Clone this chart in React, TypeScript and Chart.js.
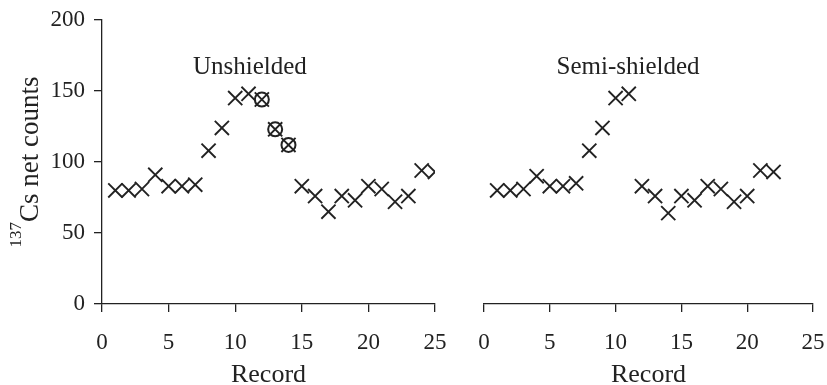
import React, { useEffect, useRef } from 'react';
import { Chart, registerables } from 'chart.js';

Chart.register(...registerables);

// ---------- data ----------
const unshieldedRecords = [1, 2, 3, 4, 5, 6, 7, 8, 9, 10, 11, 12, 13, 14, 15, 16, 17, 18, 19, 20, 21, 22, 23, 24, 25];
const unshieldedCounts = [80, 80, 81, 91, 83, 83, 84, 108, 124, 145, 148, 144, 123, 112, 83, 76, 65, 76, 73, 83, 81, 72, 76, 94, 93];
const circledRecords = [12, 13, 14];
const circledCounts = [144, 123, 112];

const semiRecords = [1, 2, 3, 4, 5, 6, 7, 8, 9, 10, 11, 12, 13, 14, 15, 16, 17, 18, 19, 20, 21, 22];
const semiCounts = [80, 80, 81, 90, 83, 83, 85, 108, 124, 145, 148, 83, 76, 64, 76, 73, 83, 81, 72, 76, 94, 93];

const xTickValues = [0, 5, 10, 15, 20, 25];
const yTickValues = [0, 50, 100, 150, 200];

const panelTitles = ['Unshielded', 'Semi-shielded'];
const xAxisTitle = 'Record';
const yAxisSup = '137';
const yAxisTitle = 'Cs net counts';

// ---------- style ----------
const INK = '#222222';
const FONT = "'Liberation Serif', 'DejaVu Serif', serif";

const toPoints = (xs: number[], ys: number[]) => xs.map((x, i) => ({ x, y: ys[i] }));

function makeTextPlugin(title: string, titleX: number, titleY: number, withYTitle: boolean) {
  return {
    id: 'panelText',
    afterDraw(chart: any) {
      const ctx = chart.ctx as CanvasRenderingContext2D;
      const area = chart.chartArea;
      const xs = chart.scales.x;
      const ys = chart.scales.y;
      ctx.save();
      ctx.fillStyle = INK;
      ctx.textAlign = 'center';
      ctx.textBaseline = 'alphabetic';
      ctx.font = `25px ${FONT}`;
      ctx.fillText(title, xs.getPixelForValue(titleX), ys.getPixelForValue(titleY));
      ctx.font = `26px ${FONT}`;
      ctx.fillText(xAxisTitle, (area.left + area.right) / 2, chart.height - 3);
      if (withYTitle) {
        ctx.translate(38, (area.top + area.bottom) / 2);
        ctx.rotate(-Math.PI / 2);
        ctx.textAlign = 'left';
        ctx.font = `17px ${FONT}`;
        const supW = ctx.measureText(yAxisSup).width;
        ctx.font = `27px ${FONT}`;
        const mainW = ctx.measureText(yAxisTitle).width;
        const start = -(supW + mainW) / 2;
        ctx.font = `17px ${FONT}`;
        ctx.fillText(yAxisSup, start, -17);
        ctx.font = `27px ${FONT}`;
        ctx.fillText(yAxisTitle, start + supW, 0);
      }
      ctx.restore();
    },
  };
}

function axisCommon(values: number[], min: number, max: number) {
  return {
    type: 'linear' as const,
    min,
    max,
    afterBuildTicks: (scale: any) => {
      scale.ticks = values.map((v) => ({ value: v }));
    },
    grid: {
      display: true,
      drawOnChartArea: false,
      drawTicks: true,
      tickLength: 8,
      color: INK,
      lineWidth: 1.3,
    },
    border: { display: true, color: INK, width: 1.3 },
  };
}

function buildConfig(
  datasets: any[],
  showY: boolean,
  padding: { left: number; right: number; top: number; bottom: number },
  plugin: any
): any {
  return {
    type: 'scatter',
    data: { datasets },
    options: {
      animation: false,
      responsive: false,
      maintainAspectRatio: false,
      layout: { padding },
      plugins: { legend: { display: false }, tooltip: { enabled: false }, title: { display: false } },
      events: [],
      scales: {
        x: {
          ...axisCommon(xTickValues, 0, 25),
          ticks: { color: INK, font: { family: FONT, size: 23 }, padding: 17, maxRotation: 0 },
          afterFit: (scale: any) => {
            scale.height = 81;
            scale.paddingLeft = 10;
            scale.paddingRight = 10;
          },
        },
        y: {
          ...axisCommon(yTickValues, 0, 200),
          display: showY,
          ticks: { color: INK, font: { family: FONT, size: 23 }, padding: 9 },
          afterFit: (scale: any) => {
            scale.width = showY ? 102 : 0;
            scale.paddingTop = 10;
            scale.paddingBottom = 0;
          },
        },
      },
    },
    plugins: [plugin],
  };
}

const crossStyle = {
  pointStyle: 'crossRot',
  pointRadius: 10,
  pointHoverRadius: 10,
  borderWidth: 1.9,
  pointBorderWidth: 1.9,
  borderColor: INK,
  backgroundColor: INK,
  showLine: false,
};

const circleStyle = {
  pointStyle: 'circle',
  pointRadius: 7,
  pointHoverRadius: 7,
  borderWidth: 2,
  pointBorderWidth: 2,
  borderColor: INK,
  backgroundColor: 'rgba(0,0,0,0)',
  showLine: false,
};

export default function App() {
  const leftRef = useRef<HTMLCanvasElement>(null);
  const rightRef = useRef<HTMLCanvasElement>(null);

  useEffect(() => {
    const left = new Chart(
      leftRef.current!,
      buildConfig(
        [
          { label: 'Unshielded', data: toPoints(unshieldedRecords, unshieldedCounts), ...crossStyle },
          { label: 'Circled', data: toPoints(circledRecords, circledCounts), ...circleStyle },
        ],
        true,
        { left: 0, right: 25, top: 20, bottom: 0 },
        makeTextPlugin(panelTitles[0], 11.1, 162, true)
      )
    );
    const right = new Chart(
      rightRef.current!,
      buildConfig(
        [{ label: 'Semi-shielded', data: toPoints(semiRecords, semiCounts), ...crossStyle }],
        false,
        { left: 24, right: 14, top: 20, bottom: 0 },
        makeTextPlugin(panelTitles[1], 10.95, 162, false)
      )
    );
    return () => {
      left.destroy();
      right.destroy();
    };
  }, []);

  return (
    <div style={{ position: 'absolute', left: 0, top: 0, width: 827, height: 385, background: '#fff' }}>
      <canvas ref={leftRef} width={460} height={385} style={{ position: 'absolute', left: 0, top: 0, width: 460, height: 385 }} />
      <canvas ref={rightRef} width={367} height={385} style={{ position: 'absolute', left: 460, top: 0, width: 367, height: 385 }} />
    </div>
  );
}
